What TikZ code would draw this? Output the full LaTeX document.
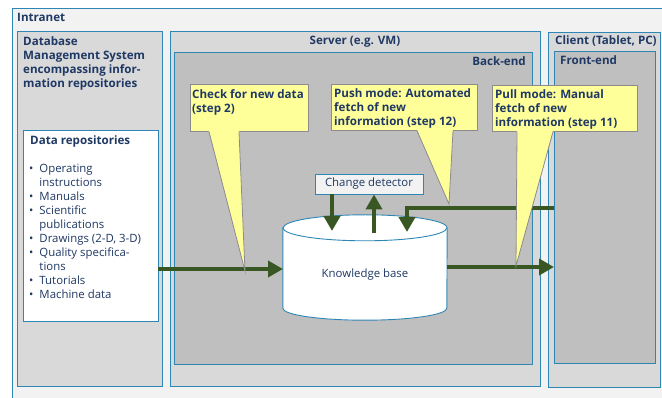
\documentclass[tikz,border=0pt]{standalone}
\usepackage{fontspec}
\setmainfont{Open Sans}
\usetikzlibrary{arrows.meta,calc}
\definecolor{framebl}{RGB}{46,134,180}
\definecolor{intragray}{RGB}{242,242,242}
\definecolor{zonegray}{RGB}{217,217,217}
\definecolor{innergray}{RGB}{191,191,191}
\definecolor{labelblue}{RGB}{31,56,100}
\definecolor{flowgreen}{RGB}{56,87,35}
\definecolor{noteyellow}{RGB}{255,255,153}
\definecolor{noteedge}{RGB}{140,140,140}
\tikzset{
  zone/.style={draw=framebl, line width=0.9pt, anchor=north west, inner sep=0pt, outer sep=0pt},
  outerzone/.style={zone, fill=intragray},
  midzone/.style={zone, fill=zonegray},
  innerzone/.style={zone, fill=innergray},
  zonetitle/.style={text=labelblue, font=\bfseries\fontsize{11.6}{14}\selectfont, inner sep=0pt, align=left},
  bodytext/.style={text=labelblue, font=\fontsize{11.4}{14}\selectfont, inner sep=0pt},
  notebox/.style={draw=noteedge, fill=noteyellow, line width=0.8pt, anchor=north west, inner sep=0pt},
  notetail/.style={draw=noteedge, line width=0.8pt},
  flow/.style={draw=flowgreen, line width=4.5pt, -{Triangle[length=15pt, width=16pt]}}
}

\begin{document}
\begin{tikzpicture}[x=1pt, y=-1pt]
  \useasboundingbox (0,0) rectangle (662,398);
  \clip (0,0) rectangle (662,398);
  \fill[white] (0,0) rectangle (662,398);

  % zones
  \node[outerzone, minimum width=660, minimum height=400] (intranet) at (12,8) {};
  \node[zonetitle, anchor=base west] (intranetlbl) at (17,21.5) {Intranet};

  \node[midzone, minimum width=145, minimum height=355] (dbms) at (17,31) {};
  \node[zonetitle, anchor=north west] (dbmslbl) at (23,36.5)
    {Database\\Management System\\encompassing infor-\\mation repositories};

  \node[midzone, minimum width=370, minimum height=355] (server) at (170,31) {};
  \node[zonetitle, anchor=base] (serverlbl) at (355,45) {Server (e.g. VM)};
  \node[innerzone, minimum width=358, minimum height=312] (back) at (174,52) {};
  \node[zonetitle, anchor=base east] (backlbl) at (526,66) {Back-end};

  \node[midzone, minimum width=112, minimum height=355] (client) at (548,32) {};
  \node[zonetitle, anchor=base west] (clientlbl) at (555,45) {Client (Tablet, PC)};
  \node[innerzone, minimum width=101, minimum height=312] (front) at (554,51) {};
  \node[zonetitle, anchor=base west] (frontlbl) at (560,65) {Front-end};

  % data repositories
  \node[zone, fill=white, minimum width=135, minimum height=191] (repo) at (23,130) {};
  \node[zonetitle, anchor=base west] (repolbl) at (30,145) {Data repositories};
  \node[bodytext, anchor=north west] (repolist) at (29,162.2) {%
    \begin{tabular}{@{}l@{\hspace{6pt}}l@{}}
      \textbullet & Operating\\ & instructions\\
      \textbullet & Manuals\\
      \textbullet & Scientific\\ & publications\\
      \textbullet & Drawings (2-D, 3-D)\\
      \textbullet & Quality specifica-\\ & tions\\
      \textbullet & Tutorials\\
      \textbullet & Machine data
    \end{tabular}};

  % knowledge base and change detector
  \node[inner sep=0pt, minimum width=164, minimum height=105] (kb) at (365,267.5) {};
  \draw[framebl, line width=0.9pt, fill=white]
    ($(kb.north west)+(0,13)$) -- ($(kb.south west)+(0,-12)$)
    arc[start angle=180, end angle=360, x radius=82pt, y radius=12pt]
    -- ($(kb.north east)+(0,13)$)
    arc[start angle=0, end angle=180, x radius=82pt, y radius=13pt] -- cycle;
  \draw[framebl, line width=0.9pt] ($(kb.north west)+(0,13)$)
    arc[start angle=180, end angle=360, x radius=82pt, y radius=13pt];
  \node[bodytext] (kblbl) at (365,275) {Knowledge base};
  \node[draw=framebl, fill=intragray, line width=0.9pt, minimum width=108, minimum height=20,
        bodytext] (detect) at (369,184) {Change detector};

  % flows
  \coordinate (kbin) at (283,269);
  \coordinate (kbout) at (447,267);
  \coordinate (cdtip) at (332,231);
  \coordinate (cdsrc) at (374,233);
  \coordinate (pushbend) at (407,208);
  \coordinate (pushtip) at (407,232);
  \draw[flow] (repo.east |- kbin) -- (kbin);
  \draw[flow] (detect.south -| cdtip) -- (cdtip);
  \draw[flow] (cdsrc) -- (detect.south -| cdsrc);
  \draw[flow] (front.west |- pushbend) -- (pushbend) -- (pushtip);
  \draw[flow] (kbout) -- (front.west |- kbout);

  % callouts
  \coordinate (chktip) at (245,271);
  \coordinate (pushnotetip) at (449,204);
  \coordinate (pullnotetip) at (516,266);

  \node[notebox, minimum width=118, minimum height=47] (chk) at (190,84) {};
  \fill[noteyellow] ($(chk.south west)+(19,-1)$) -- (chktip) -- ($(chk.south west)+(49,-1)$) -- cycle;
  \draw[notetail] ($(chk.south west)+(19,0)$) -- (chktip) -- ($(chk.south west)+(49,0)$);
  \node[zonetitle, anchor=north west] (chklbl) at (192,89.5) {Check for new data\\(step 2)};

  \node[notebox, minimum width=146, minimum height=46] (pushnote) at (331,84) {};
  \fill[noteyellow] ($(pushnote.south west)+(86,-1)$) -- (pushnotetip) -- ($(pushnote.south west)+(122,-1)$) -- cycle;
  \draw[notetail] ($(pushnote.south west)+(86,0)$) -- (pushnotetip) -- ($(pushnote.south west)+(122,0)$);
  \node[zonetitle, anchor=north west] (pushlbl) at (334,88.5)
    {Push mode: Automated\\fetch of new\\information (step 12)};

  \node[notebox, minimum width=145, minimum height=46] (pullnote) at (492,85) {};
  \fill[noteyellow] ($(pullnote.south west)+(25,-1)$) -- (pullnotetip) -- ($(pullnote.south west)+(61,-1)$) -- cycle;
  \draw[notetail] ($(pullnote.south west)+(25,0)$) -- (pullnotetip) -- ($(pullnote.south west)+(61,0)$);
  \node[zonetitle, anchor=north west] (pulllbl) at (495,89.5)
    {Pull mode: Manual\\fetch of new\\information (step 11)};
\end{tikzpicture}
\end{document}
